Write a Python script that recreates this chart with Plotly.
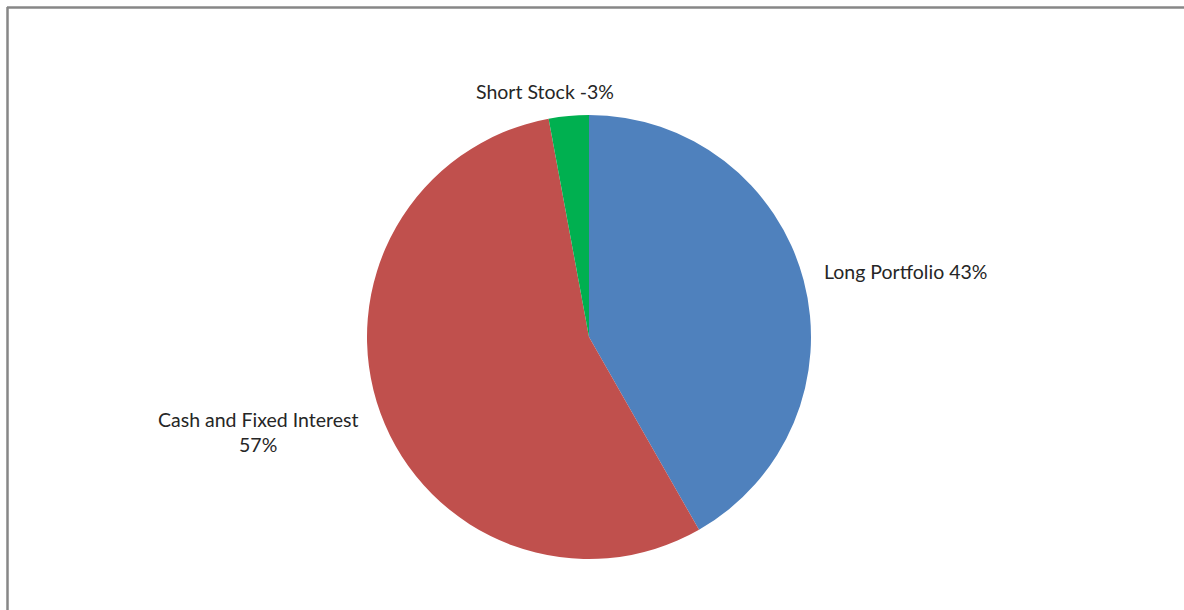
import plotly.graph_objects as go

# Portfolio allocation
categories = ["Long Portfolio", "Cash and Fixed Interest", "Short Stock"]
percentages = [43, 57, -3]
colors = ["#4F81BD", "#C0504D", "#00B050"]

W, H = 1184, 610
FONT = "Lato, 'Open Sans', sans-serif"

# Slice sizes use the magnitude of each allocation
sizes = [abs(v) for v in percentages]
labels_text = [f"{c} {v}%" for c, v in zip(categories, percentages)]

fig = go.Figure(
    go.Pie(
        labels=categories,
        values=sizes,
        marker=dict(colors=colors, line=dict(width=0)),
        sort=False,
        direction="clockwise",
        rotation=0,
        textinfo="none",
        hoverinfo="label+percent",
        domain=dict(x=[367 / W, 811 / W], y=[1 - 559 / H, 1 - 115 / H]),
        showlegend=False,
    )
)

def px(x):
    return x / W

def py(y):
    return 1 - y / H

annots = [
    dict(x=px(822), y=py(271), text=labels_text[0], xanchor="left", yanchor="middle", align="left"),
    dict(x=px(258), y=py(432), text=f"{categories[1]}<br>{percentages[1]}%", xanchor="center", yanchor="middle", align="center"),
    dict(x=px(545), y=py(91), text=labels_text[2], xanchor="center", yanchor="middle", align="center"),
]
for a in annots:
    fig.add_annotation(
        xref="paper", yref="paper", showarrow=False,
        font=dict(family=FONT, size=19.5, color="#262626"), **a
    )

# Chart frame (top and left edges)
fig.add_shape(type="line", xref="paper", yref="paper",
              x0=px(7), x1=1.01, y0=py(7.5), y1=py(7.5),
              line=dict(color="#878787", width=2.5))
fig.add_shape(type="line", xref="paper", yref="paper",
              x0=px(7.5), x1=px(7.5), y0=py(7), y1=-0.01,
              line=dict(color="#878787", width=2.5))

fig.update_layout(
    width=W, height=H,
    margin=dict(l=0, r=0, t=0, b=0),
    paper_bgcolor="white",
    plot_bgcolor="white",
)

fig.write_html("out.html")
